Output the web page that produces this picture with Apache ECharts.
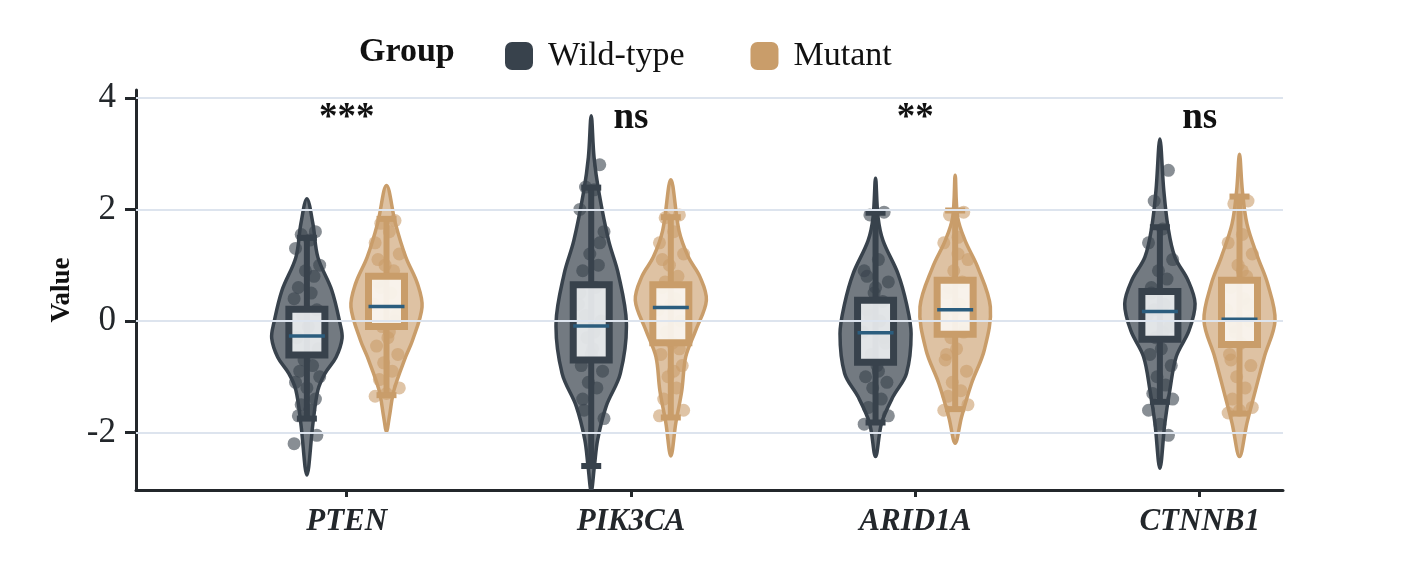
<!DOCTYPE html>
<html>
<head>
<meta charset="utf-8">
<script src="https://cdn.jsdelivr.net/npm/echarts@6/dist/echarts.min.js"></script>
<style>
  html, body { margin: 0; padding: 0; background: #fff; }
  #main { width: 1414px; height: 562px; }
</style>
</head>
<body>
<div id="main"></div>
<script>
const genes = ["PTEN", "PIK3CA", "ARID1A", "CTNNB1"];
const sigLabels = ["***", "ns", "**", "ns"];
const groups = ["Wild-type", "Mutant"];
const yTicks = [-2, 0, 2, 4];

// box stats: [lower whisker, q1, median, q3, upper whisker]
const wtBox = [
  [-1.75, -0.61, -0.27, 0.21, 1.49],
  [-2.60, -0.70, -0.09, 0.65, 2.39],
  [-1.82, -0.74, -0.21, 0.37, 1.94],
  [-1.45, -0.33, 0.17, 0.53, 1.68]
];
const mtBox = [
  [-1.33, -0.10, 0.26, 0.80, 1.83],
  [-1.73, -0.39, 0.24, 0.65, 1.86],
  [-1.58, -0.24, 0.20, 0.73, 1.98],
  [-1.66, -0.42, 0.03, 0.73, 2.23]
];

// violin outlines: [value, relative half width]
const wtViolin = [
  [[2.19, 0], [1.74, 0.17], [1.14, 0.31], [0.55, 0.70], [-0.04, 0.93], [-0.31, 0.99], [-0.65, 0.82], [-0.94, 0.51], [-1.24, 0.31], [-1.84, 0.17], [-2.76, 0]],
  [[3.68, 0], [2.93, 0.08], [2.33, 0.21], [1.44, 0.49], [0.85, 0.76], [-0.04, 0.99], [-0.94, 0.82], [-1.53, 0.42], [-2.13, 0.18], [-2.60, 0.09], [-3.05, 0]],
  [[2.56, 0], [1.86, 0.07], [1.44, 0.21], [0.85, 0.63], [0.31, 0.87], [-0.23, 1.0], [-0.94, 0.87], [-1.36, 0.49], [-1.83, 0.17], [-2.43, 0]],
  [[3.26, 0], [2.34, 0.11], [1.68, 0.23], [1.15, 0.42], [0.73, 0.79], [0.31, 0.99], [-0.17, 0.82], [-0.64, 0.46], [-1.24, 0.28], [-1.83, 0.14], [-2.64, 0]]
];
const mtViolin = [
  [[2.43, 0], [1.75, 0.25], [1.15, 0.54], [0.67, 0.87], [0.25, 1.0], [-0.35, 0.73], [-0.64, 0.54], [-1.24, 0.21], [-1.72, 0.08], [-1.98, 0]],
  [[2.53, 0], [1.62, 0.23], [1.15, 0.49], [0.79, 0.82], [0.37, 1.0], [-0.17, 0.70], [-0.64, 0.42], [-1.24, 0.31], [-1.83, 0.14], [-2.42, 0]],
  [[2.61, 0], [1.86, 0.07], [1.44, 0.28], [0.97, 0.63], [0.25, 0.99], [-0.52, 0.82], [-1.12, 0.46], [-1.72, 0.18], [-2.19, 0]],
  [[2.99, 0], [2.34, 0.08], [1.74, 0.21], [1.15, 0.51], [0.67, 0.79], [0.01, 1.0], [-0.64, 0.70], [-1.24, 0.45], [-1.83, 0.21], [-2.43, 0]]
];

// observations per gene
const wtPoints = [
  [1.6, 1.55, 1.45, 1.3, 1.0, 0.9, 0.8, 0.6, 0.5, 0.4, 0.2, 0.1, -0.1, -0.3, -0.5, -0.7, -0.8, -0.9, -1.0, -1.1, -1.2, -1.4, -1.5, -1.6, -1.7, -2.05, -2.2],
  [2.8, 2.4, 2.35, 2.0, 1.6, 1.2, 1.0, 0.9, 0.6, 0.3, 0.0, -0.3, -0.5, -0.8, -0.9, -1.1, -1.2, -1.6, -1.75, 0.5, -0.6, 1.4, 0.1, -0.2, -1.4],
  [1.95, 1.9, 1.1, 0.9, 0.7, 0.5, 0.35, 0.2, 0.0, -0.2, -0.4, -0.6, -0.8, -1.0, -1.1, -1.2, -1.4, -1.55, -1.7, -1.85, 0.6, -0.3, 0.1, -0.9, 0.8],
  [2.7, 2.15, 1.65, 1.4, 1.1, 0.9, 0.75, 0.5, 0.3, 0.1, -0.1, -0.3, -0.5, -0.6, -0.8, -1.0, -1.15, -1.3, -1.4, -1.6, -1.85, -2.05, 0.2, -0.2, 0.6]
];
const mtPoints = [
  [1.8, 1.75, 1.6, 1.4, 1.2, 1.0, 0.9, 0.7, 0.5, 0.3, 0.1, -0.1, -0.3, -0.45, -0.6, -0.75, -0.9, -1.05, -1.2, -1.35, -1.3, 0.0, 0.6, -0.2, 1.1],
  [1.9, 1.85, 1.6, 1.4, 1.2, 1.0, 0.8, 0.6, 0.4, 0.2, 0.0, -0.2, -0.4, -0.6, -0.8, -1.0, -1.2, -1.4, -1.6, -1.7, 0.3, -0.5, 0.7, -0.9, 1.1],
  [1.95, 1.9, 1.5, 1.4, 1.1, 0.9, 0.7, 0.5, 0.3, 0.1, -0.1, -0.3, -0.5, -0.7, -0.9, -1.1, -1.25, -1.35, -1.5, -1.6, 0.2, -0.2, 0.6, 1.2, -0.6],
  [2.15, 2.1, 1.55, 1.4, 1.2, 1.0, 0.8, 0.6, 0.4, 0.2, 0.0, -0.2, -0.4, -0.6, -0.8, -1.0, -1.2, -1.4, -1.55, -1.65, -1.6, 0.3, -0.1, 0.9, -0.7]
];
// hand-set jitter pattern (-1..1)
const jitter = [0.6, -0.4, 0.2, -0.8, 0.9, -0.1, 0.5, -0.6, 0.3, -0.9, 0.7, -0.3, 0.1, -0.7, 0.8, -0.2, 0.4, -0.5, 0.9, -0.8, 0.0, 0.6, -0.4, 0.2, -0.6, 0.7, -0.9];

const colors = { "Wild-type": "#38424c", "Mutant": "#c99d6a" };
const boxFill = { "Wild-type": "rgba(236,238,240,0.92)", "Mutant": "rgba(250,246,241,0.92)" };
const offsets = { "Wild-type": -0.14, "Mutant": 0.14 };
const violinHalf = 0.125;
const font = "Liberation Serif";

const chart = echarts.init(document.getElementById("main"));

function violinSeries(name, profiles) {
  return {
    name: name,
    type: "custom",
    z: 2,
    clip: true,
    itemStyle: { color: colors[name] },
    data: genes.map((g, i) => [i]),
    renderItem: function (params, api) {
      const i = api.value(0);
      const prof = profiles[i];
      const cx = i + offsets[name];
      const right = [];
      const left = [];
      prof.forEach(function (p) {
        right.push(api.coord([cx + p[1] * violinHalf, p[0]]));
        left.push(api.coord([cx - p[1] * violinHalf, p[0]]));
      });
      const pts = right.concat(left.slice(1, -1).reverse());
      return {
        type: "polygon",
        shape: { points: pts, smooth: 0.35 },
        style: {
          fill: echarts.color.modifyAlpha(colors[name], name === "Mutant" ? 0.62 : 0.7),
          stroke: colors[name],
          lineWidth: 3.5
        }
      };
    }
  };
}

function pointSeries(name, points) {
  const data = [];
  points.forEach(function (vals, i) {
    vals.forEach(function (v, k) {
      data.push([i + offsets[name] + jitter[k % jitter.length] * 0.05, v]);
    });
  });
  return {
    name: name,
    type: "scatter",
    z: 3,
    symbolSize: 13,
    itemStyle: { color: colors[name], opacity: 0.6 },
    data: data
  };
}

function boxSeries(name, stats) {
  return {
    name: name,
    type: "custom",
    z: 4,
    itemStyle: { color: colors[name] },
    data: genes.map((g, i) => [i]),
    renderItem: function (params, api) {
      const i = api.value(0);
      const s = stats[i];
      const cx = i + offsets[name];
      const lo = api.coord([cx, s[0]]);
      const q1 = api.coord([cx, s[1]]);
      const md = api.coord([cx, s[2]]);
      const q3 = api.coord([cx, s[3]]);
      const hi = api.coord([cx, s[4]]);
      const bw = 36, cap = 20;
      const c = colors[name];
      return {
        type: "group",
        children: [
          { type: "line", shape: { x1: lo[0], y1: lo[1], x2: hi[0], y2: hi[1] }, style: { stroke: c, lineWidth: 6 } },
          { type: "line", shape: { x1: lo[0] - cap / 2, y1: lo[1], x2: lo[0] + cap / 2, y2: lo[1] }, style: { stroke: c, lineWidth: 6 } },
          { type: "line", shape: { x1: hi[0] - cap / 2, y1: hi[1], x2: hi[0] + cap / 2, y2: hi[1] }, style: { stroke: c, lineWidth: 6 } },
          { type: "rect", shape: { x: q3[0] - bw / 2, y: q3[1], width: bw, height: q1[1] - q3[1] },
            style: { fill: boxFill[name], stroke: c, lineWidth: 7 } },
          { type: "line", shape: { x1: md[0] - bw / 2, y1: md[1], x2: md[0] + bw / 2, y2: md[1] },
            style: { stroke: "#2b5d7e", lineWidth: 3.5 } }
        ]
      };
    }
  };
}

const option = {
  animation: false,
  backgroundColor: "#fff",
  textStyle: { fontFamily: font },
  title: {
    text: "Group",
    left: 354,
    top: 30,
    textStyle: { fontFamily: font, fontSize: 34, fontWeight: "bold", color: "#111" }
  },
  legend: {
    data: groups,
    left: 500,
    top: 34,
    icon: "roundRect",
    itemWidth: 28,
    itemHeight: 28,
    itemGap: 66,
    textStyle: { fontFamily: font, fontSize: 34, color: "#111", padding: [0, 0, 0, 10] }
  },
  grid: { left: 136, right: 131, top: 90, bottom: 72 },
  xAxis: {
    type: "value",
    min: -0.741,
    max: 3.293,
    axisLine: { onZero: false, lineStyle: { color: "#23272b", width: 3 } },
    axisTick: { customValues: [0, 1, 2, 3], length: 7, lineStyle: { color: "#23272b", width: 3 } },
    axisLabel: {
      customValues: [0, 1, 2, 3],
      formatter: (v) => genes[Math.round(v)],
      fontFamily: font,
      fontSize: 31,
      fontWeight: "bold",
      fontStyle: "italic",
      color: "#23272b",
      margin: 16
    },
    splitLine: { show: false }
  },
  yAxis: {
    type: "value",
    min: -3.03,
    max: 4.14,
    name: "Value",
    nameLocation: "middle",
    nameGap: 56,
    nameTextStyle: { fontFamily: font, fontSize: 27, fontWeight: "bold", color: "#111" },
    axisLine: { show: true, onZero: false, lineStyle: { color: "#23272b", width: 3 } },
    axisTick: { show: true, customValues: yTicks, length: 11, lineStyle: { color: "#23272b", width: 3 } },
    axisLabel: { customValues: yTicks, fontFamily: font, fontSize: 35, color: "#23272b", margin: 20 },
    splitLine: { show: false }
  },
  series: [
    {
      name: "grid",
      type: "line",
      z: 1,
      data: [],
      silent: true,
      markLine: {
        silent: true,
        symbol: "none",
        label: { show: false },
        lineStyle: { color: "#dde4ee", width: 2, type: "solid" },
        data: yTicks.map((t) => ({ yAxis: t }))
      }
    },
    violinSeries("Wild-type", wtViolin),
    violinSeries("Mutant", mtViolin),
    pointSeries("Wild-type", wtPoints),
    pointSeries("Mutant", mtPoints),
    boxSeries("Wild-type", wtBox),
    boxSeries("Mutant", mtBox),
    {
      name: "sig",
      type: "custom",
      z: 5,
      silent: true,
      data: genes.map((g, i) => [i, 3.63]),
      renderItem: function (params, api) {
        const p = api.coord([api.value(0), api.value(1)]);
        return {
          type: "text",
          x: p[0],
          y: p[1],
          style: {
            text: sigLabels[params.dataIndex],
            fontFamily: font,
            fontSize: 37,
            fontWeight: "bold",
            fill: "#111",
            align: "center",
            verticalAlign: "middle"
          }
        };
      }
    }
  ]
};

chart.setOption(option);
</script>
</body>
</html>
